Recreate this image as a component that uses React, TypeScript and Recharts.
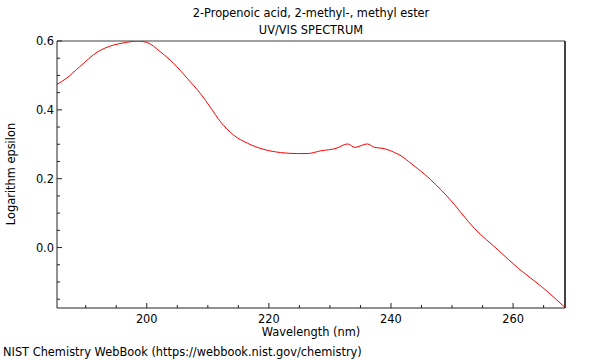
import { LineChart, Line, XAxis, YAxis, ReferenceLine } from "recharts";

const wavelengths = [
  185.3, 186.8, 189.0, 192.0, 194.5, 196.7, 198.4, 200.0, 202.2, 204.4, 206.6, 208.8,
  210.4, 212.1, 214.2, 216.5, 219.2, 221.9, 224.7, 226.3, 228.5, 231.0, 232.9, 234.1,
  236.1, 237.3, 238.7, 240.6, 241.7, 243.3, 245.5, 249.3, 253.7, 257.6, 260.9, 264.7,
  266.9, 268.5,
];

const logEpsilon = [
  0.474, 0.491, 0.525, 0.569, 0.588, 0.596, 0.6, 0.596, 0.569, 0.535, 0.492, 0.447,
  0.408, 0.365, 0.327, 0.303, 0.285, 0.276, 0.273, 0.273, 0.281, 0.288, 0.301, 0.291,
  0.301, 0.291, 0.288, 0.276, 0.266, 0.244, 0.213, 0.147, 0.055, -0.008, -0.061, -0.114,
  -0.148, -0.174,
];

const xTicks = [190, 195, 200, 205, 210, 215, 220, 225, 230, 235, 240, 245, 250, 255, 260, 265];
const yTicks = [-0.15, -0.1, -0.05, 0, 0.05, 0.1, 0.15, 0.2, 0.25, 0.3, 0.35, 0.4, 0.45, 0.5, 0.55, 0.6];

const X_MIN = 185.3;
const X_MAX = 268.5;
const Y_MIN = -0.1756;
const Y_MAX = 0.6;

const FONT = "'DejaVu Sans', sans-serif";
const FS = 11.4;

const data = wavelengths.map((wl, i) => ({ wl, v: logEpsilon[i] }));

const XTick = (props: any) => {
  const { x, y, payload } = props;
  const major = payload.value % 20 === 0;
  return (
    <g>
      <line x1={x} x2={x} y1={y} y2={y - (major ? 5 : 3)} stroke="#222" />
      {major && (
        <text x={x} y={y + 15} textAnchor="middle" fontFamily={FONT} fontSize={FS} fill="#000">
          {payload.value}
        </text>
      )}
    </g>
  );
};

const YTick = (props: any) => {
  const { x, y, payload } = props;
  const v = payload.value;
  const major = Math.abs(v * 5 - Math.round(v * 5)) < 1e-6;
  return (
    <g>
      <line x1={x} x2={x + (major ? 5 : 3)} y1={y} y2={y} stroke="#222" />
      {major && (
        <text x={x - 3} y={y + 4} textAnchor="end" fontFamily={FONT} fontSize={FS} fill="#000">
          {v.toFixed(1)}
        </text>
      )}
    </g>
  );
};

export default function App() {
  return (
    <div
      style={{
        position: "absolute",
        left: 0,
        top: 0,
        width: 600,
        height: 360,
        background: "#fff",
        fontFamily: FONT,
        fontSize: FS,
        color: "#000",
      }}
    >
      <LineChart width={600} height={360} data={data} margin={{ top: 41, right: 35, bottom: 22, left: 0 }}>
        <XAxis
          type="number"
          dataKey="wl"
          domain={[X_MIN, X_MAX]}
          allowDataOverflow
          ticks={xTicks}
          interval={0}
          tickSize={0}
          tickMargin={0}
          tickLine={false}
          tick={<XTick />}
          height={30}
          axisLine={{ stroke: "#222" }}
        />
        <YAxis
          type="number"
          domain={[Y_MIN, Y_MAX]}
          allowDataOverflow
          ticks={yTicks}
          interval={0}
          tickSize={0}
          tickMargin={0}
          tickLine={false}
          tick={<YTick />}
          width={57}
          axisLine={{ stroke: "#222" }}
        />
        <ReferenceLine y={Y_MAX} stroke="#a0a0a0" strokeWidth={2} />
        <ReferenceLine x={X_MAX} stroke="#444" strokeWidth={2} />
        <Line
          type="monotone"
          dataKey="v"
          stroke="#ff0000"
          strokeWidth={1}
          dot={false}
          isAnimationActive={false}
        />
      </LineChart>

      <div style={{ position: "absolute", left: 0, width: 622, top: 5, textAlign: "center", lineHeight: "17px" }}>
        <div>2-Propenoic acid, 2-methyl-, methyl ester</div>
        <div>UV/VIS SPECTRUM</div>
      </div>
      <div style={{ position: "absolute", left: 0, width: 622, top: 325, textAlign: "center", lineHeight: "14px" }}>
        Wavelength (nm)
      </div>
      <div
        style={{
          position: "absolute",
          left: 11,
          top: 174,
          transform: "translate(-50%, -50%) rotate(-90deg)",
          whiteSpace: "nowrap",
        }}
      >
        Logarithm epsilon
      </div>
      <div style={{ position: "absolute", left: 3, top: 345, whiteSpace: "nowrap", lineHeight: "14px" }}>
        NIST Chemistry WebBook (https://webbook.nist.gov/chemistry)
      </div>
    </div>
  );
}
